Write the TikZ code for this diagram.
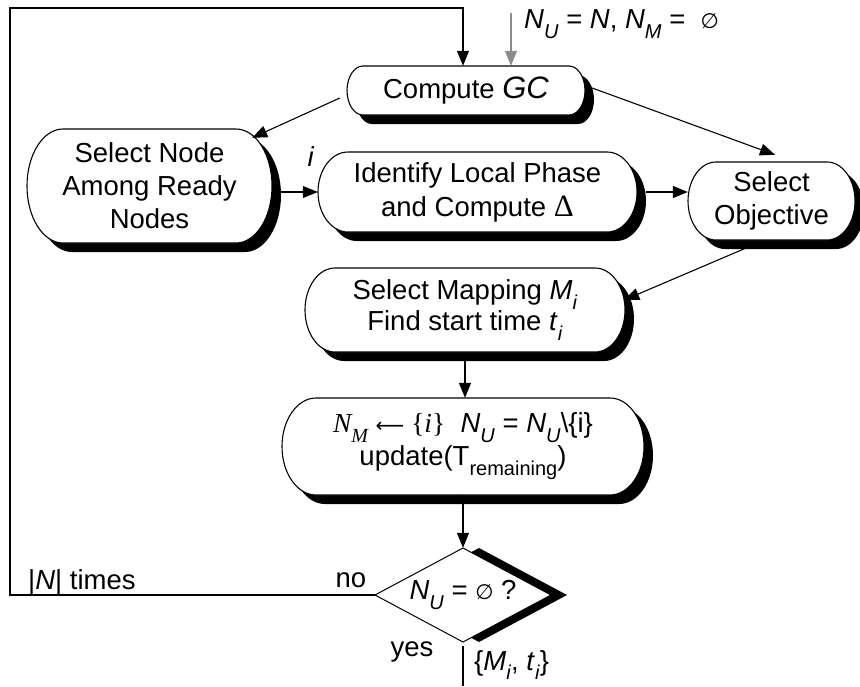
\documentclass[tikz,border=0pt]{standalone}
\usepackage{fontspec}
\setmainfont{Liberation Sans}
\newfontfamily\serifff{Liberation Serif}
\newfontfamily\symfont{DejaVu Sans}
\usetikzlibrary{arrows.meta,shapes.geometric,calc}
\definecolor{initgray}{RGB}{140,140,140}
\newcommand\lo[1]{\raisebox{-0.36em}{\fontsize{20}{20}\selectfont #1}}
\newcommand\empt{{\symfont\fontsize{21}{21}\selectfont ∅}}
\newcommand\termshape[3]{(-#1+#3,#2) -- (#1-#3,#2) arc[start angle=90,end angle=-90,x radius=#3,y radius=#2] -- (-#1+#3,-#2) arc[start angle=270,end angle=90,x radius=#3,y radius=#2] -- cycle}
\newcommand\term[7]{%
  \begin{scope}[shift={(#2+9,-#3-9)}]
    \fill[black] \termshape{#4/2}{#5/2}{#6};
  \end{scope}
  \begin{scope}[shift={(#2,-#3)}]
    \filldraw[fill=white,line width=1.1pt] \termshape{#4/2}{#5/2}{#6};
  \end{scope}
  \node[boxtext,minimum width=#4,minimum height=#5] (#1) at (#2,-#3) {#7};
}
\tikzset{
  boxtext/.style={inner sep=0pt, align=center, font=\fontsize{27.5}{33}\selectfont},
  lab/.style={inner sep=0pt, font=\fontsize{27.5}{33}\selectfont},
  arr/.style={line width=1.1pt, -{Triangle[length=15pt,width=12pt]}},
  plain/.style={line width=1.1pt},
}
\begin{document}
\begin{tikzpicture}[x=1pt,y=1pt]
\useasboundingbox (0,0) rectangle (860,-686);
% boxes
\term{gc}{466}{90.5}{238}{49}{16}{Compute {\fontsize{31}{33}\selectfont\itshape GC}}
\term{sel}{149.5}{186}{245}{114}{36}{Select Node\\Among Ready\\Nodes}
\term{id}{477.5}{192}{319}{80}{30}{Identify Local Phase\\[1pt]and Compute {\serifff\fontsize{31}{33}\selectfont Δ}}
\term{obj}{771.5}{201}{167}{78}{28}{Select\\Objective}
\term{map}{465}{310}{320}{84}{30}{Select Mapping \textit{M}\lo{\textit{i}}\\[-2pt]Find start time \textit{t}\lo{\textit{i}}}
\term{upd}{463}{446.5}{362}{97}{34}{{\serifff\itshape N}\lo{\serifff\itshape M}\ {\symfont\fontsize{20}{20}\selectfont ⟵}{\serifff\ \{\textit{i}\}}\ \ \textit{N}\lo{\textit{U}} = \textit{N}\lo{\textit{U}}\textbackslash\{i\}\\[0pt]update(T\lo{remaining})}
% decision
\fill[black] (479,-548) -- (567,-595) -- (479,-642) -- (391,-595) -- cycle;
\filldraw[fill=white,line width=1pt] (463,-548) -- (551,-595) -- (463,-642) -- (375,-595) -- cycle;
\node[diamond, aspect=1.87, minimum width=176pt, minimum height=94pt, inner sep=0pt, font=\fontsize{27.5}{33}\selectfont] (dia) at (463,-595) {\textit{N}\lo{\textit{U}} = \empt\ ?};
% coordinates
\coordinate (lx) at (10,0);
\coordinate (ltop) at (463,-8);
\coordinate (init) at (511,-13);
\coordinate (out) at (0,-686);
% connectors
\draw[arr] (dia.west) -- (dia.west -| lx) -- (lx |- ltop) -- (ltop) -- (ltop |- gc.north);
\draw[arr, draw=initgray] (init) -- (init |- gc.north);
\draw[arr] ([shift={(-7,-7.5)}]gc.west) -- ([shift={(-20,-9)}]sel.north east);
\draw[arr] ([shift={(7,2.5)}]gc.east) -- ([shift={(3.5,7)}]obj.north);
\draw[arr] ([xshift=9pt]sel.east |- id.west) -- (id.west);
\draw[arr] ([xshift=9pt]id.east) -- (id.east -| obj.west);
\draw[arr] ([shift={(-23.5,-7)}]obj.south) -- ([shift={(-1,10)}]map.east);
\draw[arr] ([yshift=-9pt]map.south) -- (map.south |- upd.north);
\draw[arr] (upd.south) -- (dia.north);
\draw[plain] ([yshift=-4pt]dia.south) -- (dia.south |- out);
% labels
\node[lab, anchor=west] (initlab) at (524,-24) {\textit{N}\lo{\textit{U}} = \textit{N}, \textit{N}\lo{\textit{M}} = \ \empt};
\node[lab] (ilab) at (311,-157) {\textit{i}};
\node[lab, anchor=west] (times) at (28,-582) {|\textit{N}| times};
\node[lab] (nolab) at (351,-580) {no};
\node[lab] (yeslab) at (412,-652) {yes};
\node[lab, anchor=west] (outlab) at (474,-665) {\{\textit{M}\lo{\textit{i}}, \textit{t}\lo{\textit{i}}\}};
\end{tikzpicture}
\end{document}
